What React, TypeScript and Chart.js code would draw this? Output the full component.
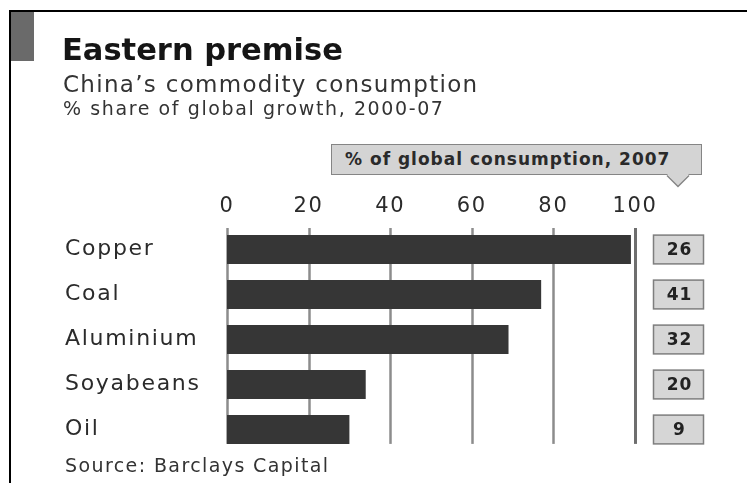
import { useEffect, useRef } from "react";
import {
  Chart,
  BarController,
  BarElement,
  CategoryScale,
  LinearScale,
} from "chart.js";

Chart.register(BarController, BarElement, CategoryScale, LinearScale);

// ─── data ─────────────────────────────────────────────
const COMMODITIES = ["Copper", "Coal", "Aluminium", "Soyabeans", "Oil"];
// % share of global growth, 2000-07
const GROWTH_SHARE = [99, 77, 69, 34, 30];
// % of global consumption, 2007
const CONSUMPTION_2007 = [26, 41, 32, 20, 9];
const X_TICKS = [0, 20, 40, 60, 80, 100];

const FONT = "'DejaVu Sans', 'Noto Sans', sans-serif";
const INK = "#2b2b2b";

// grid lines stop at the bottom of the last bar, like the original
const gridPlugin = {
  id: "gridLines",
  beforeDatasetsDraw(chart: Chart) {
    const { ctx, chartArea } = chart;
    const x = chart.scales.x;
    const bars = chart.getDatasetMeta(0).data as any[];
    const last = bars[bars.length - 1];
    const bottom = last.y + last.height / 2;
    ctx.save();
    X_TICKS.forEach((v) => {
      const px = Math.round(x.getPixelForValue(v)) + 0.5;
      ctx.beginPath();
      ctx.strokeStyle = v === 100 ? "#6e6e6e" : "#8c8c8c";
      ctx.lineWidth = v === 100 ? 3 : 2.5;
      ctx.moveTo(px, chartArea.top + 1);
      ctx.lineTo(px, bottom);
      ctx.stroke();
    });
    ctx.restore();
  },
};

// grey value boxes on the right
const boxPlugin = {
  id: "valueBoxes",
  afterDatasetsDraw(chart: Chart) {
    const { ctx } = chart;
    const bars = chart.getDatasetMeta(0).data as any[];
    ctx.save();
    bars.forEach((bar, i) => {
      const top = bar.y - bar.height / 2;
      const left = 653.5;
      const w = 50;
      ctx.fillStyle = "#d6d6d6";
      ctx.fillRect(left, top, w, bar.height);
      ctx.strokeStyle = "#7e7e7e";
      ctx.lineWidth = 1.5;
      ctx.strokeRect(left, top, w, bar.height);
      ctx.fillStyle = "#222";
      ctx.font = `bold 17px ${FONT}`;
      (ctx as any).letterSpacing = "1px";
      ctx.textAlign = "center";
      ctx.textBaseline = "middle";
      ctx.fillText(String(CONSUMPTION_2007[i]), left + w / 2 + 1, bar.y + 1);
    });
    ctx.restore();
  },
};

const spacingPlugin = {
  id: "letterSpacing",
  beforeDraw(chart: Chart) {
    (chart.ctx as any).letterSpacing = "1.7px";
  },
};

function ChinaChart() {
  const canvasRef = useRef<HTMLCanvasElement>(null);

  useEffect(() => {
    if (!canvasRef.current) return;
    const chart = new Chart(canvasRef.current, {
      type: "bar",
      data: {
        labels: COMMODITIES,
        datasets: [
          {
            data: GROWTH_SHARE,
            backgroundColor: "#363636",
            borderWidth: 0,
            categoryPercentage: 1,
            barPercentage: 0.64,
          },
        ],
      },
      options: {
        indexAxis: "y",
        animation: false,
        responsive: false,
        maintainAspectRatio: false,
        events: [],
        layout: { padding: { left: 65, right: 112, top: 0, bottom: 31 } },
        plugins: {
          legend: { display: false },
          tooltip: { enabled: false },
        },
        scales: {
          x: {
            position: "top",
            min: 0,
            max: 100,
            afterBuildTicks: (scale: any) => {
              scale.ticks = X_TICKS.map((v) => ({ value: v }));
            },
            afterFit: (scale: any) => {
              scale.height = 227;
            },
            grid: { display: false, drawTicks: false },
            border: { display: false },
            ticks: {
              color: INK,
              padding: 8,
              maxRotation: 0,
              font: { family: FONT, size: 21 },
            },
          },
          y: {
            afterFit: (scale: any) => {
              scale.width = 162;
            },
            grid: { display: false, drawTicks: false },
            border: { display: false },
            ticks: {
              crossAlign: "far",
              color: INK,
              font: { family: FONT, size: 22 },
            },
          },
        },
      },
      plugins: [spacingPlugin, gridPlugin, boxPlugin],
    });
    return () => chart.destroy();
  }, []);

  return <canvas ref={canvasRef} width={747} height={483} style={{ position: "absolute", left: 0, top: 0 }} />;
}

export default function App() {
  useEffect(() => {
    document.body.style.margin = "0";
  }, []);

  return (
    <div style={{ position: "relative", width: 747, height: 483, background: "#fff", overflow: "hidden", fontFamily: FONT }}>
      {/* frame */}
      <div style={{ position: "absolute", left: 9, top: 10, width: 738, height: 2, background: "#000" }} />
      <div style={{ position: "absolute", left: 9, top: 10, width: 2, height: 473, background: "#000" }} />
      <div style={{ position: "absolute", left: 11, top: 12, width: 23, height: 49, background: "#6a6a6a" }} />

      <ChinaChart />

      {/* titles */}
      <div style={{ position: "absolute", left: 62, top: 32, fontSize: 30.5, fontWeight: 700, color: "#151515", lineHeight: "36px", whiteSpace: "nowrap" }}>
        Eastern premise
      </div>
      <div style={{ position: "absolute", left: 63, top: 70, fontSize: 23, color: "#333", letterSpacing: 1.3, lineHeight: "28px", whiteSpace: "nowrap" }}>
        China’s commodity consumption
      </div>
      <div style={{ position: "absolute", left: 63, top: 96, fontSize: 19, color: "#333", letterSpacing: 1.6, lineHeight: "24px", whiteSpace: "nowrap" }}>
        % share of global growth, 2000-07
      </div>

      {/* callout */}
      <div
        style={{
          position: "absolute",
          left: 331,
          top: 144,
          width: 356,
          height: 29,
          paddingLeft: 13,
          background: "#d4d4d4",
          border: "1.5px solid #858585",
          fontSize: 17,
          fontWeight: 700,
          color: "#2a2a2a",
          letterSpacing: 1,
          lineHeight: "29px",
          whiteSpace: "nowrap",
        }}
      >
        % of global consumption, 2007
      </div>
      <svg style={{ position: "absolute", left: 666, top: 173 }} width={26} height={16}>
        <polygon points="1,1 12,13 23,1" fill="#d4d4d4" />
        <polyline points="1,2.5 12,13.5 23,2.5" fill="none" stroke="#858585" strokeWidth={1.5} />
      </svg>

      {/* source */}
      <div style={{ position: "absolute", left: 65, top: 453, fontSize: 19, color: "#333", letterSpacing: 1.4, lineHeight: "24px", whiteSpace: "nowrap" }}>
        Source: Barclays Capital
      </div>
    </div>
  );
}
